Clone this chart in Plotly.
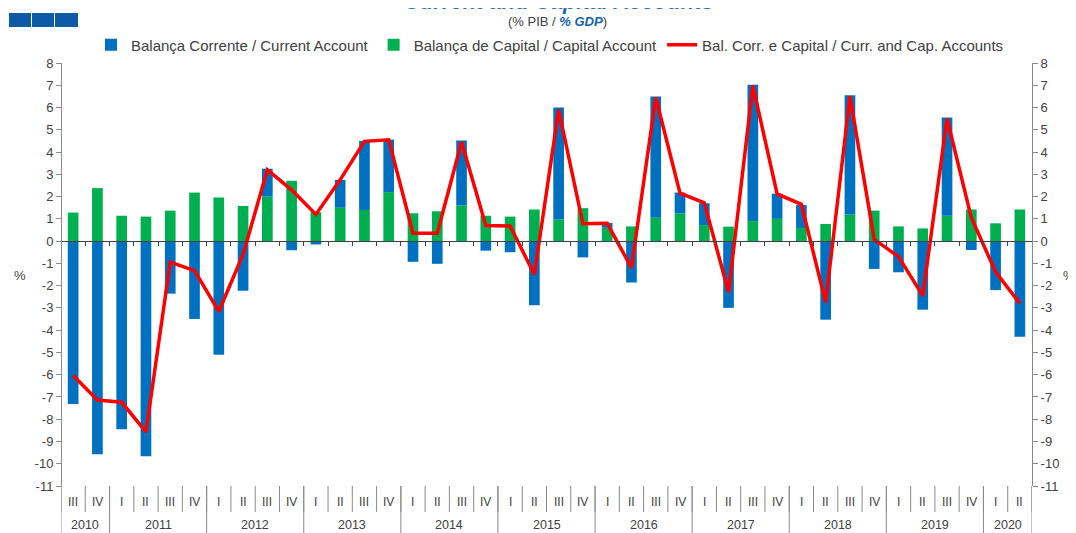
import plotly.graph_objects as go

# ---------------- data ----------------
quarters = ["III", "IV",
            "I", "II", "III", "IV",
            "I", "II", "III", "IV",
            "I", "II", "III", "IV",
            "I", "II", "III", "IV",
            "I", "II", "III", "IV",
            "I", "II", "III", "IV",
            "I", "II", "III", "IV",
            "I", "II", "III", "IV",
            "I", "II", "III", "IV",
            "I", "II"]
years = ["2010", "2011", "2012", "2013", "2014", "2015", "2016", "2017", "2018", "2019", "2020"]
quarters_per_year = [2, 4, 4, 4, 4, 4, 4, 4, 4, 4, 2]

current_account = [-7.32, -9.57, -8.45, -9.66, -2.36, -3.5, -5.1, -2.23,
                   1.25, -0.41, -0.15, 1.25, 3.1, 2.36, -0.93, -1.02,
                   2.92, -0.43, -0.5, -2.88, 5.03, -0.73, 0.22, -1.86,
                   5.45, 0.93, 0.98, -3.0, 6.12, 1.13, 1.03, -3.53,
                   5.35, -1.25, -1.4, -3.08, 4.41, -0.4, -2.2, -4.3]
capital_account = [1.28, 2.38, 1.14, 1.1, 1.37, 2.18, 1.96, 1.58,
                   2.0, 2.71, 1.3, 1.5, 1.4, 2.2, 1.25, 1.34,
                   1.6, 1.14, 1.1, 1.42, 0.97, 1.48, 0.6, 0.66,
                   1.05, 1.25, 0.72, 0.65, 0.9, 1.0, 0.59, 0.77,
                   1.2, 1.37, 0.66, 0.57, 1.14, 1.42, 0.8, 1.42]
combined = [-6.04, -7.14, -7.24, -8.57, -0.94, -1.33, -3.16, -0.6,
            3.2, 2.3, 1.2, 2.75, 4.48, 4.55, 0.35, 0.35,
            4.45, 0.7, 0.68, -1.5, 5.9, 0.78, 0.8, -1.2,
            6.45, 2.15, 1.72, -2.3, 6.98, 2.12, 1.65, -2.75,
            6.5, 0.08, -0.7, -2.45, 5.5, 1.05, -1.38, -2.8]

y_ticks = list(range(-11, 9))
y_min, y_max = -11, 8

# ---------------- layout constants ----------------
OFF = 8                      # page body margin
W, H = 1076 - OFF, 533 - OFF
ML, MR, MT, MB = 53, 44, 55, 47
PW, PH = W - ML - MR, H - MT - MB
FONT = "Liberation Sans, Arial, sans-serif"
TXT = "#404040"
AXC = "#8a8a8a"


def px_x(px):
    """screen pixel x -> paper fraction"""
    return (px - OFF - ML) / PW


def px_y(py):
    """screen pixel y -> paper fraction"""
    return (H - MB - (py - OFF)) / PH


x = list(range(len(quarters)))

fig = go.Figure()
fig.add_trace(go.Bar(
    x=x, y=capital_account, name="Balança de Capital / Capital Account",
    marker=dict(color="#00B050", line=dict(width=0)), width=0.44, legendrank=2,
))
fig.add_trace(go.Bar(
    x=x, y=current_account, name="Balança Corrente / Current Account",
    marker=dict(color="#0070C0", line=dict(width=0)), width=0.44, legendrank=1,
))
fig.add_trace(go.Scatter(
    x=x, y=combined, mode="lines", yaxis="y2",
    name="Bal. Corr. e Capital / Curr. and Cap. Accounts",
    line=dict(color="#FF0000", width=3.5), legendrank=3,
))

n = len(quarters)
zero_pos = (0 - y_min) / (y_max - y_min)

shapes = []
annotations = []

# quarter separators and labels
for i in range(n + 1):
    shapes.append(dict(type="line", xref="x", yref="paper",
                       x0=i - 0.5, x1=i - 0.5, y0=0, y1=px_y(512),
                       line=dict(color=AXC, width=1)))
for i, q in enumerate(quarters):
    annotations.append(dict(xref="x", yref="paper", x=i, y=px_y(502),
                            text=q, showarrow=False, yanchor="middle",
                            font=dict(family=FONT, size=12, color=TXT)))
# year separators and labels
start = 0
for yr, cnt in zip(years, quarters_per_year):
    shapes.append(dict(type="line", xref="x", yref="paper",
                       x0=start - 0.5, x1=start - 0.5, y0=0, y1=px_y(536),
                       line=dict(color=AXC, width=1)))
    annotations.append(dict(xref="x", yref="paper", x=start + (cnt - 1) / 2, y=px_y(525),
                            text=yr, showarrow=False, yanchor="middle",
                            font=dict(family=FONT, size=12.5, color=TXT)))
    start += cnt
shapes.append(dict(type="line", xref="x", yref="paper",
                   x0=start - 0.5, x1=start - 0.5, y0=0, y1=px_y(536),
                   line=dict(color=AXC, width=1)))

# logo squares (decoration)
for x0, x1 in [(9, 31), (32, 54), (55, 78)]:
    shapes.append(dict(type="rect", xref="paper", yref="paper",
                       x0=px_x(x0), x1=px_x(x1), y0=px_y(27), y1=px_y(13),
                       fillcolor="#0D5AA7", line=dict(width=0)))

# titles (main title is cut at the top edge, as in the reference)
annotations.append(dict(xref="paper", yref="paper", x=px_x(559), y=px_y(1),
                        text="<b><i>Current and Capital Accounts</i></b>", showarrow=False,
                        xanchor="center", yanchor="middle",
                        font=dict(family=FONT, size=22, color="#1F6FC0")))
annotations.append(dict(xref="paper", yref="paper", x=px_x(557), y=px_y(22),
                        text="(% PIB / <b><i><span style='color:#1560B0'>% GDP</span></i></b>)",
                        showarrow=False, xanchor="center", yanchor="middle",
                        font=dict(family=FONT, size=13, color=TXT)))
# % labels
annotations.append(dict(xref="paper", yref="paper", x=px_x(20), y=px_y(275),
                        text="%", showarrow=False, xanchor="center", yanchor="middle",
                        font=dict(family=FONT, size=13, color=TXT)))
annotations.append(dict(xref="paper", yref="paper", x=px_x(1069), y=px_y(275),
                        text="%", showarrow=False, xanchor="center", yanchor="middle",
                        font=dict(family=FONT, size=13, color=TXT)))

ytick_text = [str(v) for v in y_ticks]

fig.update_layout(
    width=W, height=H,
    margin=dict(l=ML, r=MR, t=MT, b=MB, autoexpand=False),
    paper_bgcolor="white", plot_bgcolor="white",
    barmode="relative",
    font=dict(family=FONT, size=13, color=TXT),
    showlegend=True,
    legend=dict(orientation="h", x=px_x(550), xanchor="center",
                y=px_y(45), yanchor="middle", traceorder="normal",
                font=dict(family=FONT, size=15, color=TXT),
                bgcolor="rgba(0,0,0,0)", itemwidth=30),
    xaxis=dict(range=[-0.5, n - 0.5], anchor="free", position=zero_pos,
               showline=True, linecolor="#404040", linewidth=1,
               ticks="outside", tickvals=[i + 0.5 for i in range(n - 1)],
               ticklen=4, tickcolor="#404040", showticklabels=False,
               showgrid=False, zeroline=False, fixedrange=True),
    yaxis=dict(range=[y_min, y_max], tickvals=y_ticks, ticktext=ytick_text,
               showline=True, linecolor=AXC, linewidth=1,
               ticks="outside", ticklen=5, tickcolor=AXC,
               showgrid=False, zeroline=False, anchor="free", position=0,
               tickfont=dict(family=FONT, size=13, color=TXT)),
    yaxis2=dict(range=[y_min, y_max], tickvals=y_ticks, ticktext=ytick_text,
                overlaying="y", side="right", anchor="x",
                showline=True, linecolor=AXC, linewidth=1,
                ticks="outside", ticklen=5, tickcolor=AXC,
                showgrid=False, zeroline=False,
                tickfont=dict(family=FONT, size=13, color=TXT)),
    shapes=shapes,
    annotations=annotations,
)

fig.write_html("out.html")
